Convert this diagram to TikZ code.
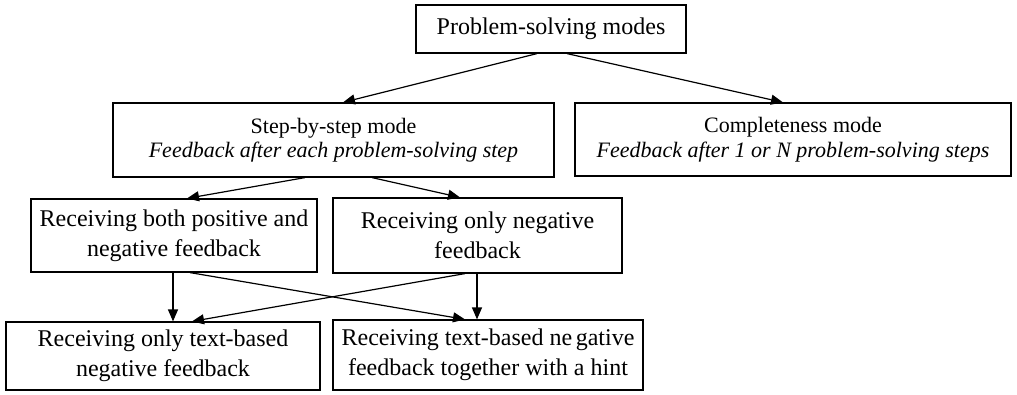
\documentclass[tikz,border=0pt]{standalone}
\usepackage{fontspec}
\setmainfont{Liberation Serif}
\usetikzlibrary{arrows.meta}
\begin{document}
\begin{tikzpicture}[x=1pt,y=-1pt,
  box/.style={draw=black, line width=1.2pt, align=center, inner sep=0pt, font=\fontsize{24}{30}\selectfont},
  stepbox/.style={box, font=\fontsize{22}{24.5}\selectfont},
  arr/.style={line width=1.2pt, -{Triangle[length=12pt,width=10pt]}}]
\useasboundingbox (0,0) rectangle (1017,395);
\node[box, minimum width=270pt, minimum height=48pt] (top) at (551,29) {Problem-solving modes};
\node[stepbox, minimum width=441pt, minimum height=74pt] (step) at (333.5,140) {Step-by-step mode\\\textit{Feedback after each problem-solving step}};
\node[stepbox, minimum width=436pt, minimum height=73pt] (comp) at (793,139.5) {Completeness mode\\\textit{Feedback after 1 or N problem-solving steps}};
\node[box, minimum width=286pt, minimum height=73pt] (A) at (174,235.5) {Receiving both positive and\\negative feedback};
\node[box, minimum width=289pt, minimum height=75pt] (B) at (477.5,235.5) {Receiving only negative\\feedback};
\node[box, minimum width=314pt, minimum height=68pt] (C) at (163,356) {Receiving only text-based\\negative feedback};
\node[box, minimum width=310pt, minimum height=70pt] (D) at (488,355) {Receiving text-based ne\hspace{0.15em}gative\\feedback together with a hint};
\draw[arr] ([xshift=-14pt]top.south) -- ([xshift=9.5pt]step.north);
\draw[arr] ([xshift=16pt]top.south) -- ([xshift=-10pt]comp.north);
\draw[arr] ([xshift=-28.5pt]step.south) -- ([xshift=13pt]A.north);
\draw[arr] ([xshift=38.5pt]step.south) -- ([xshift=-17.5pt]B.north);
\draw[arr] ([xshift=-1pt]A.south) -- ([xshift=-1pt]A.south |- C.north);
\draw[arr] ([xshift=-0.5pt]B.south) -- ([xshift=-0.5pt]B.south |- D.north);
\draw[arr] ([xshift=16pt]A.south) -- ([xshift=-23pt]D.north);
\draw[arr] ([xshift=-12.5pt]B.south) -- ([xshift=29pt]C.north);
\end{tikzpicture}
\end{document}
